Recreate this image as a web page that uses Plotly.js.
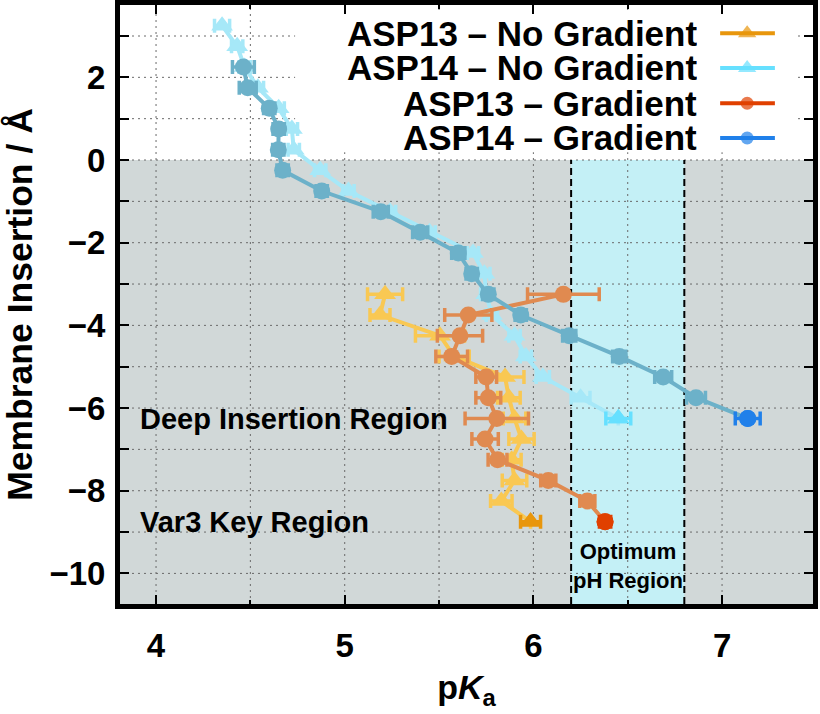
<!DOCTYPE html>
<html><head><meta charset="utf-8">
<script src="https://cdn.plot.ly/plotly-3.0.1.min.js"></script>
<style>html,body{margin:0;padding:0;background:#fff}#chart{width:820px;height:714px}</style>
</head><body><div id="chart"></div>
<script>
// ---- data ----
const depthASP14NoGrad = [3.25, 2.75, 2.25, 1.75, 1.25, 0.75, 0.25, -0.25, -0.75, -1.25, -1.75, -2.25, -2.75, -3.25, -3.75, -4.25, -4.75, -5.25, -5.75, -6.25];
const pkaASP14NoGrad   = [4.35, 4.43, 4.47, 4.54, 4.65, 4.72, 4.73, 4.87, 5.02, 5.24, 5.45, 5.68, 5.74, 5.75, 5.78, 5.90, 5.96, 6.05, 6.25, 6.45];
const errASP14NoGrad   = [0.04, 0.03, 0.03, 0.03, 0.03, 0.03, 0.03, 0.03, 0.03, 0.03, 0.03, 0.03, 0.03, 0.03, 0.03, 0.03, 0.03, 0.035, 0.05, 0.066];

const depthASP14Grad = [2.25, 1.75, 1.25, 0.75, 0.25, -0.25, -0.75, -1.25, -1.75, -2.25, -2.75, -3.25, -3.75, -4.25, -4.75, -5.25, -5.75, -6.25];
const pkaASP14Grad   = [4.463, 4.486, 4.600, 4.650, 4.648, 4.671, 4.878, 5.191, 5.40, 5.602, 5.673, 5.761, 5.933, 6.190, 6.455, 6.688, 6.862, 7.136];
const errASP14Grad   = [0.058, 0.045, 0.03, 0.03, 0.03, 0.03, 0.03, 0.04, 0.04, 0.035, 0.03, 0.03, 0.03, 0.035, 0.035, 0.045, 0.05, 0.066];

const depthASP13 = [-3.25, -3.75, -4.25, -4.75, -5.25, -5.75, -6.25, -6.75, -7.25, -7.75, -8.25, -8.75];
const pkaASP13Grad   = [6.159, 5.655, 5.611, 5.567, 5.75, 5.761, 5.806, 5.744, 5.81, 6.079, 6.286, 6.38];
const errASP13Grad   = [0.19, 0.125, 0.12, 0.084, 0.055, 0.066, 0.168, 0.07, 0.05, 0.04, 0.04, 0.03];
const pkaASP13NoGrad = [5.214, 5.187, 5.505, 5.58, 5.85, 5.87, 5.90, 5.937, 5.885, 5.90, 5.83, 5.985];
const errASP13NoGrad = [0.093, 0.053, 0.13, 0.08, 0.1, 0.06, 0.06, 0.067, 0.05, 0.065, 0.057, 0.053];

const seriesNames = ['ASP13 – No Gradient', 'ASP14 – No Gradient', 'ASP13 – Gradient', 'ASP14 – Gradient'];
const optimumBand = [6.2, 6.8];
const membraneSurface = 0;
const xTicks = [4, 5, 6, 7];
const yTicks = [-10, -8, -6, -4, -2, 0, 2];
const xGrid = [4, 4.5, 5, 5.5, 6, 6.5, 7];
const yGrid = [-10, -9, -8, -7, -6, -5, -4, -3, -2, -1, 0, 1, 2, 3];

// ---- style / layout constants ----
const FONT = 'Liberation Sans, Arial, Helvetica, sans-serif';
const xRange = [3.809, 7.482];
const yRange = [-10.74, 3.75];
const legendBoxX = [4.737, 7.386];
const legendBoxY = [0.19, 3.58];
const GRID = {color: '#6a6a6a', width: 1, dash: '2px,4px'};
const styles = [
  {mid: '#f9c853', end: '#e8960c', symbol: 'triangle-up', size: 19},
  {mid: '#a6e8f8', end: '#66e0ff', symbol: 'triangle-up', size: 19},
  {mid: '#e08a50', end: '#e04000', symbol: 'circle', size: 17},
  {mid: '#6cb1c9', end: '#2080ea', symbol: 'circle', size: 17}
];

function series(x, y, err, st) {
  const n = x.length;
  const colors = x.map((_, i) => i === n - 1 ? st.end : st.mid);
  const errMain = err.map((e, i) => i === n - 1 ? 0 : e);
  return [
    {type: 'scatter', mode: 'lines+markers', x: x, y: y,
     line: {color: st.mid, width: 4},
     marker: {symbol: st.symbol, size: st.size, color: colors, line: {width: 0}},
     error_x: {type: 'data', array: errMain, color: st.mid, thickness: 3.5, width: 7},
     showlegend: false, hoverinfo: 'x+y'},
    {type: 'scatter', mode: 'markers', x: [x[n - 1]], y: [y[n - 1]],
     marker: {symbol: st.symbol, size: st.size, color: st.end, line: {width: 0}},
     error_x: {type: 'data', array: [err[n - 1]], color: st.end, thickness: 3.5, width: 7},
     showlegend: false, hoverinfo: 'x+y'}
  ];
}

const traces = [];
traces.push(...series(pkaASP13NoGrad, depthASP13, errASP13NoGrad, styles[0]));
traces.push(...series(pkaASP14NoGrad, depthASP14NoGrad, errASP14NoGrad, styles[1]));
traces.push(...series(pkaASP13Grad, depthASP13, errASP13Grad, styles[2]));
traces.push(...series(pkaASP14Grad, depthASP14Grad, errASP14Grad, styles[3]));

// custom legend (symbol to the right of the text)
const legRows = [0.953, 0.895, 0.836, 0.778];
const legLineX = [0.866, 0.905, 0.945];
const annotations = [];
seriesNames.forEach((name, i) => {
  const st = styles[i];
  traces.push({type: 'scatter', mode: 'lines+markers', xaxis: 'x2', yaxis: 'y2',
    x: legLineX, y: legLineX.map(() => legRows[i]),
    line: {color: st.end, width: 4},
    marker: {symbol: st.symbol, size: [0, st.symbol === 'circle' ? 13 : 16, 0], color: st.end, line: {width: 0}},
    showlegend: false, hoverinfo: 'skip'});
  annotations.push({xref: 'paper', yref: 'paper', x: 0.834, y: legRows[i], xanchor: 'right', yanchor: 'middle',
    height: 33, valign: 'middle', borderpad: 0,
    text: '<b>' + name + '</b>', showarrow: false, font: {family: FONT, size: 35, color: '#000'}});
});

annotations.push(
  {xref: 'x', yref: 'y', x: 3.905, y: -6.26, xanchor: 'left', yanchor: 'middle', showarrow: false,
   text: '<b>Deep Insertion Region</b>', font: {family: FONT, size: 29, color: '#000'}},
  {xref: 'x', yref: 'y', x: 3.905, y: -8.75, xanchor: 'left', yanchor: 'middle', showarrow: false,
   text: '<b>Var3 Key Region</b>', font: {family: FONT, size: 29, color: '#000'}},
  {xref: 'x', yref: 'y', x: (optimumBand[0] + optimumBand[1]) / 2, y: -9.82, xanchor: 'center', yanchor: 'middle', showarrow: false,
   text: '<b>Optimum</b><br><b>pH Region</b>', font: {family: FONT, size: 22, color: '#000'}}
);

// background regions, dotted grid, opaque legend box, band edges (all below the traces)
const shapes = [
  {type: 'rect', xref: 'x', yref: 'y', x0: xRange[0], x1: xRange[1], y0: yRange[0], y1: membraneSurface,
   fillcolor: '#d1d8d8', line: {width: 0}, layer: 'below'},
  {type: 'rect', xref: 'x', yref: 'y', x0: optimumBand[0], x1: optimumBand[1], y0: yRange[0], y1: membraneSurface,
   fillcolor: '#c4f0f6', line: {width: 0}, layer: 'below'}
];
xGrid.forEach(v => shapes.push({type: 'line', xref: 'x', yref: 'y', x0: v, x1: v, y0: yRange[0], y1: yRange[1],
  line: GRID, layer: 'below'}));
yGrid.forEach(v => shapes.push({type: 'line', xref: 'x', yref: 'y', x0: xRange[0], x1: xRange[1], y0: v, y1: v,
  line: GRID, layer: 'below'}));
shapes.push({type: 'rect', xref: 'x', yref: 'y', x0: legendBoxX[0], x1: legendBoxX[1], y0: legendBoxY[0], y1: legendBoxY[1],
  fillcolor: '#ffffff', line: {width: 0}, layer: 'below'});
optimumBand.forEach(v => shapes.push({type: 'line', xref: 'x', yref: 'y', x0: v, x1: v, y0: yRange[0], y1: membraneSurface,
  line: {color: '#000', width: 2, dash: '7px,4px'}, layer: 'below'}));

const axisCommon = {
  showline: true, linewidth: 5, linecolor: '#000', mirror: 'ticks',
  ticks: 'inside', tickcolor: '#000', tickwidth: 2, zeroline: false, showgrid: false,
  tickfont: {family: FONT, size: 33, color: '#000', weight: 'bold'}
};

const layout = {
  width: 820, height: 714,
  margin: {l: 120, r: 7, t: 5, b: 110},
  paper_bgcolor: '#fff', plot_bgcolor: '#fff',
  showlegend: false,
  xaxis: Object.assign({}, axisCommon, {
    range: xRange, tickvals: xTicks, ticklen: 9, ticklabelstandoff: 8,
    minor: {dtick: 0.5, tick0: 4, ticks: 'inside', ticklen: 4, tickcolor: '#000', tickwidth: 2, showgrid: false},
    title: {text: '<b>p<i>K</i><sub>a</sub></b>', font: {family: FONT, size: 34, color: '#000'}, standoff: 14}
  }),
  yaxis: Object.assign({}, axisCommon, {
    range: yRange, tickvals: yTicks, ticklen: 9, ticklabelstandoff: 3,
    minor: {dtick: 1, tick0: 0, ticks: 'inside', ticklen: 9, tickcolor: '#000', tickwidth: 2, showgrid: false},
    title: {text: '<b>Membrane Insertion / Å</b>', font: {family: FONT, size: 35.5, color: '#000'}, standoff: 12}
  }),
  xaxis2: {overlaying: 'x', range: [0, 1], visible: false, fixedrange: true},
  yaxis2: {overlaying: 'y', range: [0, 1], visible: false, fixedrange: true},
  shapes: shapes,
  annotations: annotations
};

Plotly.newPlot('chart', traces, layout, {displayModeBar: false, staticPlot: true});
</script></body></html>
